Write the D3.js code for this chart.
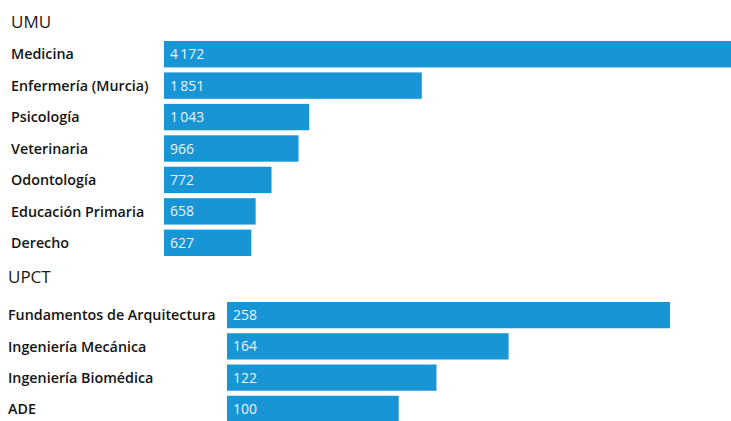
<!DOCTYPE html>
<html>
<head>
<meta charset="utf-8">
<script src="https://cdn.jsdelivr.net/npm/d3@7/dist/d3.min.js"></script>
<style>
  html, body { margin: 0; padding: 0; background: #ffffff; }
  svg { display: block; }
</style>
</head>
<body>
<svg id="chart" width="731" height="421"></svg>
<script>
// ---- data ----
const umuCategories = ["Medicina", "Enfermería (Murcia)", "Psicología", "Veterinaria", "Odontología", "Educación Primaria", "Derecho"];
const umuValues = [4172, 1851, 1043, 966, 772, 658, 627];
const upctCategories = ["Fundamentos de Arquitectura", "Ingeniería Mecánica", "Ingeniería Biomédica", "ADE"];
const upctValues = [258, 164, 122, 100];
const groupTitles = ["UMU", "UPCT"];

const W = 731, H = 421;
const svg = d3.select("#chart");
const barColor = "#1795d5";
const locale = d3.formatLocale({ decimal: ",", thousands: "\u2009", grouping: [3], currency: ["", "€"] });
const fmt = locale.format(",d");

function drawGroup(cfg) {
  const data = cfg.categories.map((c, i) => ({ name: c, value: cfg.values[i] }));
  const x = d3.scaleLinear().domain([0, cfg.maxValue]).range([cfg.x0, cfg.x1]);
  const y = d3.scaleBand().domain(cfg.categories).range([cfg.y0, cfg.y1]).paddingInner(0.16).paddingOuter(0);

  svg.append("text")
    .attr("x", cfg.titleX).attr("y", cfg.titleY)
    .attr("font-family", "Open Sans, sans-serif")
    .attr("font-size", 17)
    .attr("fill", "#1a1a1a")
    .text(cfg.title);

  const g = svg.append("g");
  g.selectAll("rect").data(data).join("rect")
    .attr("x", x(0))
    .attr("y", d => y(d.name))
    .attr("width", d => Math.min(x(d.value), W + 20) - x(0))
    .attr("height", y.bandwidth())
    .attr("fill", barColor);

  g.selectAll("text.val").data(data).join("text")
    .attr("class", "val")
    .attr("x", x(0) + 6)
    .attr("y", d => y(d.name) + y.bandwidth() / 2)
    .attr("dy", "0.36em")
    .attr("font-family", "Open Sans, sans-serif")
    .attr("font-size", 14)
    .attr("fill", "#eaf4fb")
    .text(d => fmt(d.value));

  g.selectAll("text.lab").data(data).join("text")
    .attr("class", "lab")
    .attr("x", cfg.labelX)
    .attr("y", d => y(d.name) + y.bandwidth() / 2)
    .attr("dy", "0.36em")
    .attr("font-family", "Open Sans, sans-serif")
    .attr("font-weight", 600)
    .attr("font-size", 14.3)
    .attr("fill", "#141414")
    .text(d => d.name);
}

drawGroup({
  title: groupTitles[0], titleX: 11, titleY: 28,
  categories: umuCategories, values: umuValues,
  maxValue: 4172, x0: 164, x1: 745,
  y0: 41, y1: 256, labelX: 11
});

drawGroup({
  title: groupTitles[1], titleX: 8, titleY: 283,
  categories: upctCategories, values: upctValues,
  maxValue: 258, x0: 227, x1: 670,
  y0: 302, y1: 422, labelX: 8
});
</script>
</body>
</html>
